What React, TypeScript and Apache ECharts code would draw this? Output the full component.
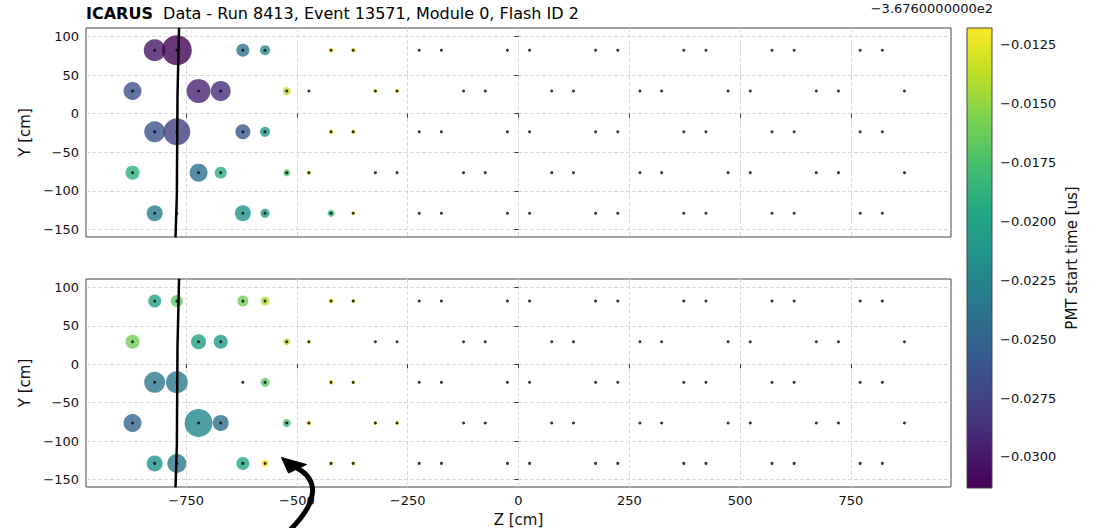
import React, { useEffect, useRef } from "react";
import * as echarts from "echarts";

// PMT Z positions (cm) for the two row patterns
const Z_ROW_A = [-821, -771, -622, -572, -423, -373, -224, -174, -25, 25, 174, 224, 373, 423, 572, 622, 771, 821];
const Z_ROW_B = [-871, -722, -672, -523, -473, -323, -274, -124, -75, 75, 124, 274, 323, 473, 523, 672, 722, 871];
// PMT row Y positions (cm)
const ROW_Y = [82.1, 29.3, -23.5, -76.3, -128.8];
const ROW_PATTERN = ["A", "B", "A", "B", "A"];

// Hits: [Z cm, Y cm, marker size, start time offset us]
const TOP_HITS = [
  [-821, 82.1, 22, -0.03], [-771, 82.1, 30, -0.0311], [-622, 82.1, 13, -0.0241], [-572, 82.1, 10, -0.0222],
  [-423, 82.1, 5, -0.0119], [-373, 82.1, 5, -0.0119],
  [-871, 29.3, 18, -0.0264], [-722, 29.3, 24, -0.0294], [-672, 29.3, 20, -0.0288], [-523, 29.3, 8, -0.0137],
  [-323, 29.3, 4, -0.0119], [-274, 29.3, 4, -0.0119],
  [-821, -23.5, 21, -0.0262], [-771, -23.5, 27, -0.0278], [-622, -23.5, 15, -0.026], [-572, -23.5, 10, -0.0215],
  [-423, -23.5, 5, -0.0119], [-373, -23.5, 5, -0.0119],
  [-871, -76.3, 14, -0.019], [-722, -76.3, 18, -0.0239], [-672, -76.3, 12, -0.0192], [-523, -76.3, 7, -0.0171],
  [-473, -76.3, 4, -0.0119],
  [-821, -128.8, 16, -0.0231], [-622, -128.8, 16, -0.0212], [-572, -128.8, 9, -0.0208], [-423, -128.8, 7, -0.018],
  [-373, -128.8, 4, -0.0119],
];
const BOTTOM_HITS = [
  [-821, 82.1, 13, -0.0202], [-771, 82.1, 12, -0.0167], [-622, 82.1, 11, -0.0161], [-572, 82.1, 9, -0.0141],
  [-423, 82.1, 5, -0.0119], [-373, 82.1, 4, -0.0119],
  [-871, 29.3, 14, -0.0161], [-722, 29.3, 15, -0.0204], [-672, 29.3, 14, -0.0208], [-523, 29.3, 7, -0.0139],
  [-473, 29.3, 4, -0.0119],
  [-821, -23.5, 21, -0.0235], [-771, -23.5, 22, -0.0235], [-572, -23.5, 9, -0.0167],
  [-423, -23.5, 5, -0.0119], [-373, -23.5, 4, -0.0119],
  [-871, -76.3, 18, -0.0249], [-722, -76.3, 28, -0.0223], [-672, -76.3, 16, -0.0243], [-523, -76.3, 8, -0.0178],
  [-473, -76.3, 5, -0.0119], [-323, -76.3, 4, -0.0119], [-274, -76.3, 4, -0.0119],
  [-821, -128.8, 16, -0.0212], [-771, -128.8, 19, -0.0235], [-622, -128.8, 13, -0.0196], [-572, -128.8, 7, -0.012],
  [-423, -128.8, 4, -0.0119], [-373, -128.8, 4, -0.0119],
];

// Reconstructed track projection (Z, Y)
const TRACK_Z = [-766, -769.5, -771, -774];
const TRACK_Y = [111, 23, -106, -160];

const X_TICKS = [-750, -500, -250, 0, 250, 500, 750];
const Y_TICKS = [-150, -100, -50, 0, 50, 100];
const CB_TICKS = [-0.03, -0.0275, -0.025, -0.0225, -0.02, -0.0175, -0.015, -0.0125];
const T_MIN = -0.03132;
const T_MAX = -0.01179;
const VIRIDIS = ["#440154", "#482475", "#414487", "#355f8d", "#2a788e", "#21918c", "#22a884", "#44bf70", "#7ad151", "#bddf26", "#fde725"];

const FONT = "DejaVu Sans";
const minus = (s: string) => s.replace("-", "\u2212");

export default function App() {
  const ref = useRef<HTMLDivElement>(null);
  useEffect(() => {
    if (!ref.current) return;
    const chart = echarts.init(ref.current, null, { renderer: "svg" });

    const pmts: number[][] = [];
    ROW_Y.forEach((y, i) => {
      const zs = ROW_PATTERN[i] === "A" ? Z_ROW_A : Z_ROW_B;
      zs.forEach((z) => pmts.push([z, y]));
    });
    const track = TRACK_Z.map((z, i) => [z, TRACK_Y[i]]);

    const gridLine = { show: true, lineStyle: { color: "#d9d9d9", type: [4, 2], width: 1 } };
    const tick = { show: true, inside: false, length: 4, lineStyle: { color: "#333", width: 1 } };
    const labelStyle = { fontFamily: FONT, fontSize: 13, color: "#111" };
    const nameStyle = { fontFamily: FONT, fontSize: 15, color: "#111" };

    const xAxisFor = (gi: number, showLabels: boolean) => ({
      type: "value",
      gridIndex: gi,
      min: -976,
      max: 976,
      axisLine: { show: false },
      axisTick: { ...tick, customValues: X_TICKS },
      axisLabel: {
        show: showLabels,
        customValues: X_TICKS,
        margin: 7,
        ...labelStyle,
        formatter: (v: number) => minus(String(v)),
      },
      splitLine: gridLine,
      name: showLabels ? "Z [cm]" : "",
      nameLocation: "middle",
      nameGap: 25,
      nameTextStyle: nameStyle,
    });
    const yAxisFor = (gi: number) => ({
      type: "value",
      gridIndex: gi,
      min: -159.5,
      max: 110.8,
      axisLine: { show: false },
      axisTick: { ...tick, customValues: Y_TICKS },
      axisLabel: {
        customValues: Y_TICKS,
        margin: 7,
        ...labelStyle,
        formatter: (v: number) => minus(String(v)),
      },
      splitLine: gridLine,
      name: "Y [cm]",
      nameLocation: "middle",
      nameRotate: 90,
      nameGap: 52,
      nameTextStyle: nameStyle,
    });

    const option: any = {
      animation: false,
      backgroundColor: "#fff",
      title: {
        left: 86,
        top: 5,
        padding: 0,
        text: "{b|ICARUS}  Data - Run 8413, Event 13571, Module 0, Flash ID 2",
        textStyle: {
          fontFamily: FONT,
          fontSize: 16,
          fontWeight: "normal",
          color: "#000",
          rich: { b: { fontFamily: FONT, fontSize: 16, fontWeight: "bold", color: "#000" } },
        },
      },
      grid: [
        { left: 86, top: 28, width: 865, height: 209, show: true, borderColor: "#444", borderWidth: 1, backgroundColor: "transparent" },
        { left: 86, top: 279, width: 865, height: 209, show: true, borderColor: "#444", borderWidth: 1, backgroundColor: "transparent" },
        { left: 967, top: 28, width: 25, height: 460, show: false },
      ],
      xAxis: [
        xAxisFor(0, false),
        xAxisFor(1, true),
        { type: "value", gridIndex: 2, min: 0, max: 1, show: false },
      ],
      yAxis: [
        yAxisFor(0),
        yAxisFor(1),
        {
          type: "value",
          gridIndex: 2,
          position: "right",
          min: T_MIN,
          max: T_MAX,
          axisLine: { show: false },
          splitLine: { show: false },
          axisTick: { ...tick, customValues: CB_TICKS },
          axisLabel: {
            customValues: CB_TICKS,
            margin: 8,
            ...labelStyle,
            formatter: (v: number) => "\u2212" + Math.abs(v).toFixed(4),
          },
          name: "PMT start time [us]",
          nameLocation: "middle",
          nameRotate: 90,
          nameGap: 72,
          nameTextStyle: nameStyle,
        },
      ],
      visualMap: {
        type: "continuous",
        show: false,
        min: T_MIN,
        max: T_MAX,
        dimension: 3,
        seriesIndex: [0, 1],
        inRange: { color: VIRIDIS },
      },
      series: [
        { type: "scatter", xAxisIndex: 0, yAxisIndex: 0, data: TOP_HITS, symbolSize: (d: number[]) => d[2], z: 2 },
        { type: "scatter", xAxisIndex: 1, yAxisIndex: 1, data: BOTTOM_HITS, symbolSize: (d: number[]) => d[2], z: 2 },
        { type: "scatter", xAxisIndex: 0, yAxisIndex: 0, data: pmts, symbolSize: 3, itemStyle: { color: "#000" }, z: 3 },
        { type: "scatter", xAxisIndex: 1, yAxisIndex: 1, data: pmts, symbolSize: 3, itemStyle: { color: "#000" }, z: 3 },
        { type: "line", xAxisIndex: 0, yAxisIndex: 0, data: track, showSymbol: false, clip: true, lineStyle: { color: "#000", width: 2.5 }, z: 4 },
        { type: "line", xAxisIndex: 1, yAxisIndex: 1, data: track, showSymbol: false, clip: true, lineStyle: { color: "#000", width: 2.5 }, z: 4 },
      ],
      graphic: [
        {
          type: "rect",
          shape: { x: 967, y: 28, width: 25, height: 460 },
          style: {
            fill: new echarts.graphic.LinearGradient(
              0, 0, 0, 1,
              VIRIDIS.slice().reverse().map((c, i) => ({ offset: i / (VIRIDIS.length - 1), color: c }))
            ),
            stroke: "#444",
            lineWidth: 1,
          },
          z: 5,
        },
        {
          type: "text",
          x: 993,
          y: 8,
          style: {
            text: "\u22123.6760000000e2",
            fontFamily: FONT,
            fontSize: 13,
            fill: "#111",
            textAlign: "right",
            textVerticalAlign: "middle",
          },
        },
        {
          type: "bezierCurve",
          shape: { x1: 288, y1: 532, cpx1: 319, cpy1: 502, cpx2: 319, cpy2: 480, x2: 297, y2: 468 },
          style: { stroke: "#000", lineWidth: 5, fill: null },
          z: 10,
        },
        {
          type: "polygon",
          shape: { points: [[281.5, 457.5], [288.5, 473], [306.5, 464.5]] },
          style: { fill: "#000", stroke: "#000", lineWidth: 1 },
          z: 10,
        },
      ],
    };
    chart.setOption(option);
    return () => chart.dispose();
  }, []);
  return <div ref={ref} style={{ position: "fixed", left: 0, top: 0, width: 1101, height: 528 }} />;
}
